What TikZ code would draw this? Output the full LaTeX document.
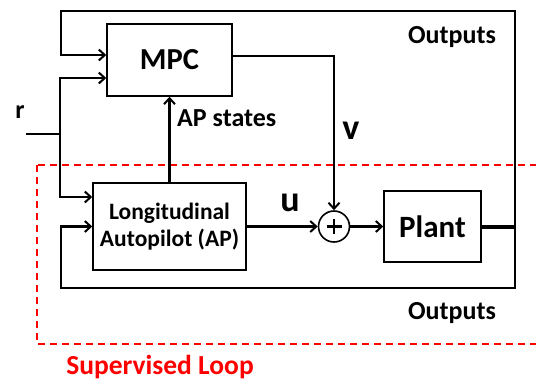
\documentclass[tikz,border=0pt]{standalone}
\usepackage{fontspec}
\setmainfont{Carlito}
\usetikzlibrary{arrows.meta,calc}

\tikzset{
  block/.style={draw, line width=1.5pt, inner sep=0pt, font=\bfseries},
  wire/.style={line width=2.4pt, -{Straight Barb[length=6pt,width=11pt,line width=2pt]}},
  plainwire/.style={line width=2.4pt},
  lbl/.style={font=\bfseries\fontsize{26}{28}\selectfont, inner sep=0pt},
  biglbl/.style={font=\bfseries\fontsize{36}{38}\selectfont, inner sep=0pt},
  loopbox/.style={draw=red, line width=1.4pt, dash pattern=on 7pt off 5pt},
}

\begin{document}
\begin{tikzpicture}[x=1pt, y=-1pt]
  \clip (0,0) rectangle (536,381);
  \fill[white] (0,0) rectangle (536,381);

  % supervised loop boundary
  \draw[loopbox] (37,165) rectangle (570,344);
  \node[font=\bfseries\fontsize{27.5}{30}\selectfont, text=red, inner sep=0pt] (suplbl) at (160,367) {Supervised Loop};

  % blocks
  \node[block, minimum width=125pt, minimum height=72pt, font=\bfseries\fontsize{30.5}{32}\selectfont] (mpc) at (169.5,60) {MPC};
  \node[block, minimum width=153pt, minimum height=87pt, align=center,
        font=\bfseries\fontsize{23.5}{26.5}\selectfont] (ap) at (169.5,226.5) {Longitudinal\\Autopilot (AP)};
  \node[block, minimum width=97pt, minimum height=71pt, font=\bfseries\fontsize{31}{32}\selectfont] (plant) at (432.5,226.5) {Plant};
  \node[draw, circle, line width=1.6pt, minimum size=31pt, inner sep=0pt] (sum) at (334,226.5) {};
  \draw[line width=2.8pt] ($(sum.center)+(-7.5,0)$) -- ($(sum.center)+(7.5,0)$)
                          ($(sum.center)+(0,-7.5)$) -- ($(sum.center)+(0,7.5)$);

  % junction points
  \coordinate (rin) at (26,134);
  \coordinate (rj) at (60,134);
  \coordinate (outj) at (515,226.5);
  \coordinate (topl) at (61,11);
  \coordinate (botl) at (61,288);

  % reference input
  \draw[plainwire] (rin) -- (rj);
  \draw[wire] (rj) |- ($(mpc.west)+(0,18)$);
  \draw[wire] (rj) |- ($(ap.west)+(0,-29.5)$);

  % AP states to MPC
  \draw[wire] (ap.north) -- (mpc.south);

  % MPC correction v and AP command u
  \draw[wire] ($(mpc.east)+(0,-4)$) -| (sum.north);
  \draw[wire] (ap.east) -- (sum.west);
  \draw[wire] (sum.east) -- (plant.west);

  % plant outputs fed back
  \draw[line width=4pt] (plant.east) -- (outj);
  \draw[wire] (outj) |- (topl) |- ($(mpc.west)+(0,-5)$);
  \draw[wire] (outj) |- (botl) |- (ap.west);

  % labels
  \node[lbl] (rlbl) at (20,112) {r};
  \node[lbl, anchor=west] (aplbl) at (177,118) {AP states};
  \node[biglbl] (vlbl) at (351,131) {v};
  \node[biglbl] (ulbl) at (290,203) {u};
  \node[lbl] (out1) at (452,37) {Outputs};
  \node[lbl] (out2) at (452,313) {Outputs};
\end{tikzpicture}
\end{document}
